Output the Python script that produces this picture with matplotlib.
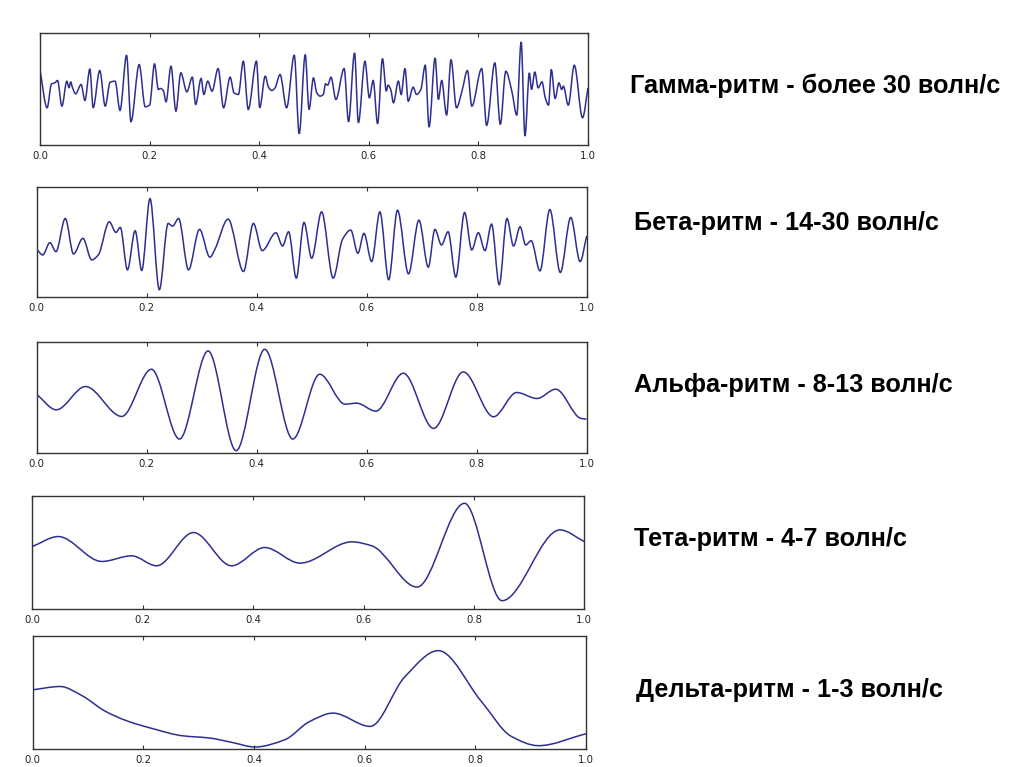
import matplotlib
matplotlib.use("Agg")
import matplotlib.pyplot as plt
from matplotlib.path import Path
from matplotlib.patches import PathPatch

W, H = 1024, 767

# время (с) и амплитуда (усл. ед.) — точки экстремумов
gamma_t = [0.000, 0.013, 0.021, 0.027, 0.032, 0.040, 0.049, 0.053, 0.056, 0.059,
           0.065, 0.075, 0.082, 0.091, 0.097, 0.109, 0.119, 0.128, 0.137, 0.146,
           0.158, 0.166, 0.181, 0.192, 0.200, 0.209, 0.216, 0.220, 0.225, 0.230,
           0.239, 0.248, 0.257, 0.268, 0.278, 0.284, 0.294, 0.299, 0.306, 0.314,
           0.325, 0.335, 0.347, 0.354, 0.362, 0.371, 0.380, 0.395, 0.401, 0.411,
           0.417, 0.423, 0.429, 0.438, 0.450, 0.464, 0.473, 0.484, 0.491, 0.499,
           0.505, 0.511, 0.517, 0.521, 0.525, 0.531, 0.540, 0.555, 0.563, 0.574,
           0.581, 0.593, 0.601, 0.608, 0.616, 0.625, 0.632, 0.635, 0.640, 0.645,
           0.654, 0.659, 0.666, 0.672, 0.681, 0.687, 0.695, 0.703, 0.710, 0.721,
           0.727, 0.733, 0.742, 0.750, 0.760, 0.770, 0.780, 0.788, 0.806, 0.815,
           0.830, 0.840, 0.850, 0.861, 0.870, 0.878, 0.885, 0.893, 0.897, 0.903,
           0.909, 0.916, 0.922, 0.928, 0.933, 0.940, 0.947, 0.952, 0.955, 0.964,
           0.975, 0.990, 1.000]
gamma_v = [0.57, -0.57, 0.15, 0.18, 0.25, -0.52, 0.23, 0.03, 0.21, 0.05,
           -0.15, 0.13, -0.35, 0.60, -0.57, 0.55, -0.52, 0.20, 0.23, -0.65,
           1.01, -0.99, 0.73, -0.54, -0.49, 0.75, -0.02, 0.01, -0.05, -0.39,
           0.68, -0.67, 0.48, -0.09, 0.35, -0.47, 0.31, -0.17, 0.23, -0.07,
           0.61, -0.57, 0.35, -0.12, -0.17, 0.83, -0.62, 0.83, -0.57, 0.38,
           0.05, -0.05, 0.03, 0.43, -0.57, 1.01, -1.35, 1.03, -0.62, 0.33,
           -0.12, -0.22, -0.17, 0.15, 0.11, 0.35, -0.32, 0.61, -0.99, 1.08,
           -1.02, 0.83, -0.27, 0.25, -1.05, 0.91, -0.07, 0.11, -0.02, -0.42,
           0.23, -0.17, 0.61, -0.37, 0.05, -0.17, -0.02, 0.71, -1.15, 0.93,
           -0.32, 0.25, -0.79, 0.88, -0.57, -0.07, 0.55, -0.52, 0.61, -1.10,
           0.78, -1.07, 0.53, -0.07, -0.79, 1.41, -1.42, 0.48, -0.02, 0.51,
           0.03, 0.21, -0.27, -0.49, 0.58, -0.29, 0.18, -0.02, 0.08, -0.49,
           0.71, -0.87, 0.03]

beta_t = [0.000, 0.011, 0.024, 0.035, 0.052, 0.067, 0.084, 0.100, 0.112, 0.132,
          0.144, 0.152, 0.165, 0.179, 0.191, 0.206, 0.223, 0.239, 0.247, 0.258,
          0.276, 0.296, 0.315, 0.324, 0.348, 0.376, 0.394, 0.410, 0.435, 0.447,
          0.458, 0.472, 0.486, 0.500, 0.518, 0.539, 0.556, 0.571, 0.584, 0.595,
          0.609, 0.624, 0.640, 0.656, 0.676, 0.695, 0.712, 0.724, 0.736, 0.748,
          0.762, 0.778, 0.791, 0.803, 0.815, 0.827, 0.841, 0.855, 0.867, 0.879,
          0.889, 0.899, 0.915, 0.933, 0.952, 0.971, 0.988, 1.000]
beta_v = [-0.22, -0.39, -0.02, -0.29, 0.71, -0.36, 0.11, -0.54, -0.39, 0.61,
          0.29, 0.44, -0.84, 0.34, -0.86, 1.31, -1.44, 0.56, 0.48, 0.71,
          -0.84, 0.38, -0.46, -0.22, 0.69, -0.89, 0.56, -0.26, 0.28, -0.12,
          0.31, -1.09, 0.59, -0.49, 0.91, -1.09, 0.08, 0.36, -0.34, 0.26,
          -0.59, 0.91, -1.14, 0.96, -0.96, 0.66, -0.76, 0.38, -0.09, 0.31,
          -1.06, 0.89, -0.24, 0.28, -0.26, 0.54, -1.29, 0.71, -0.12, 0.46,
          -0.09, 0.04, -0.87, 0.98, -0.92, 0.74, -0.59, 0.18]

alpha_t = [0.000, 0.036, 0.089, 0.155, 0.209, 0.260, 0.312, 0.363, 0.415, 0.466,
           0.515, 0.561, 0.582, 0.617, 0.667, 0.722, 0.776, 0.831, 0.873, 0.910,
           0.944, 0.990, 1.000]
alpha_v = [0.10, -0.37, 0.33, -0.57, 0.85, -1.25, 1.40, -1.60, 1.45, -1.25,
           0.70, -0.20, -0.17, -0.41, 0.73, -0.93, 0.77, -0.58, 0.15, -0.03,
           0.25, -0.63, -0.65]

theta_t = [0.000, 0.047, 0.126, 0.180, 0.225, 0.292, 0.361, 0.421, 0.485, 0.579,
           0.615, 0.697, 0.783, 0.851, 0.956, 1.000]
theta_v = [0.18, 0.48, -0.27, -0.10, -0.40, 0.60, -0.40, 0.15, -0.32, 0.32,
           0.20, -1.04, 1.48, -1.45, 0.68, 0.33]

delta_t = [0.000, 0.050, 0.090, 0.130, 0.170, 0.220, 0.270, 0.320, 0.360, 0.402,
           0.456, 0.500, 0.543, 0.610, 0.673, 0.733, 0.811, 0.865, 0.914, 1.000]
delta_v = [0.08, 0.18, -0.10, -0.55, -0.85, -1.10, -1.30, -1.37, -1.50, -1.64,
           -1.42, -0.88, -0.62, -1.02, 0.48, 1.26, -0.27, -1.32, -1.60, -1.24]

labels = ["Гамма-ритм - более 30 волн/с",
          "Бета-ритм - 14-30 волн/с",
          "Альфа-ритм - 8-13 волн/с",
          "Тета-ритм - 4-7 волн/с",
          "Дельта-ритм - 1-3 волн/с"]

tick_vals = [0.0, 0.2, 0.4, 0.6, 0.8, 1.0]
tick_text = ["0.0", "0.2", "0.4", "0.6", "0.8", "1.0"]


def smooth_path(t, v):
    # монотонный кубический сплайн (Fritsch-Carlson) в виде кривых Безье
    n = len(t)
    h = [t[i + 1] - t[i] for i in range(n - 1)]
    d = [(v[i + 1] - v[i]) / h[i] for i in range(n - 1)]
    m = [d[0]] + [0.0] * (n - 2) + [d[-1]]
    for k in range(1, n - 1):
        if d[k - 1] * d[k] > 0:
            w1 = 2 * h[k] + h[k - 1]
            w2 = h[k] + 2 * h[k - 1]
            m[k] = (w1 + w2) / (w1 / d[k - 1] + w2 / d[k])
    verts = [(t[0], v[0])]
    codes = [Path.MOVETO]
    for i in range(n - 1):
        s = h[i] / 3
        verts += [(t[i] + s, v[i] + m[i] * s),
                  (t[i + 1] - s, v[i + 1] - m[i + 1] * s),
                  (t[i + 1], v[i + 1])]
        codes += [Path.CURVE4] * 3
    return Path(verts, codes)


series = [(gamma_t, gamma_v), (beta_t, beta_v), (alpha_t, alpha_v),
          (theta_t, theta_v), (delta_t, delta_v)]

# рамки панелей в пикселях: слева, справа, сверху, снизу
boxes = [(40, 588, 33, 145), (36.7, 586.7, 187, 297), (36.5, 586.5, 342, 453),
         (32.3, 584.3, 496, 609), (32.5, 586, 636, 749)]
ylims = [(-1.69, 1.68), (-1.66, 1.66), (-1.67, 1.67), (-1.70, 1.70), (-1.70, 1.70)]
label_pos = [(630, 93), (634, 230), (634, 392), (634, 546), (636, 697)]

fig = plt.figure(figsize=(W / 100, H / 100), dpi=100)
fig.patch.set_facecolor("white")

for (t, v), (l, r, top, bot), yl, txt, (lx, ly) in zip(series, boxes, ylims, labels, label_pos):
    ax = fig.add_axes([l / W, 1 - bot / H, (r - l) / W, (bot - top) / H])
    ax.add_patch(PathPatch(smooth_path(t, v), fill=False, edgecolor="#2e2e90", lw=1.1))
    ax.set_xlim(0, 1)
    ax.set_ylim(*yl)
    ax.set_xticks(tick_vals)
    ax.set_xticklabels(tick_text, fontsize=7.3, family="DejaVu Sans", color="#222222")
    ax.set_yticks([])
    ax.tick_params(axis="x", direction="in", top=True, bottom=True, length=3,
                   width=0.8, color="#333333", pad=4)
    for sp in ax.spines.values():
        sp.set_color("#333333")
        sp.set_linewidth(1.0)

    fig.text(lx / W, 1 - ly / H, txt, fontsize=18.2, fontweight="bold",
             family=["Liberation Sans", "DejaVu Sans"], ha="left", va="baseline")

fig.savefig("out.png", dpi=100, facecolor="white")
